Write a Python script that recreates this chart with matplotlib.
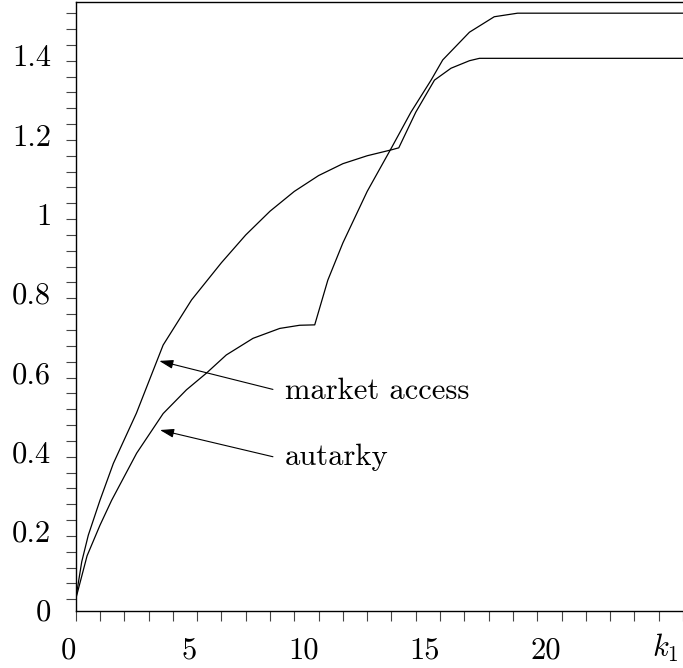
import matplotlib
matplotlib.use('Agg')
import matplotlib.pyplot as plt
import numpy as np

plt.rcParams['font.family'] = ['cmr10', 'DejaVu Serif']
plt.rcParams['mathtext.fontset'] = 'cm'

# market access curve
mkt_k = [0, 0.25, 0.52, 1.0, 1.55, 2.5, 3.6, 4.77, 6, 7, 8, 9, 10, 11, 12, 13, 13.3,
         14, 14.77, 15.45, 16.21, 16.62, 25]
mkt_v = [0, 0.095, 0.162, 0.25, 0.343, 0.47, 0.642, 0.756, 0.85, 0.92, 0.98, 1.03,
         1.07, 1.10, 1.12, 1.135, 1.14, 1.23, 1.311, 1.341, 1.36, 1.366, 1.366]

# autarky curve
aut_k = [0, 0.47, 1.0, 1.48, 2.51, 3.6, 4.56, 5.38, 6.2, 7.3, 8.4, 9.22, 9.84,
         10.38, 11, 12, 13, 13.8, 14.63, 15.11, 16.21, 17.23, 18.19, 25]
aut_v = [0, 0.11, 0.187, 0.25, 0.369, 0.469, 0.529, 0.571, 0.617, 0.659, 0.684,
         0.692, 0.693, 0.806, 0.9, 1.03, 1.14, 1.23, 1.311, 1.362, 1.432, 1.471,
         1.48, 1.48]

xlabels = ['0', '5', '10', '15', '20']
ylabels = ['0', '0.2', '0.4', '0.6', '0.8', '1', '1.2', '1.4']

fig = plt.figure(figsize=(6.83, 6.68), dpi=100)
ax = fig.add_axes([0.1108, 0.08533, 1.0 - 0.1108, 0.99746 - 0.08533])

ax.plot(mkt_k, mkt_v, color='black', lw=0.9)
ax.plot(aut_k, aut_v, color='black', lw=0.9)

ax.set_xlim(0, 25)
ax.set_ylim(-0.0295, 1.509)

ax.set_xticks(np.arange(0, 26, 1), minor=True)
ax.set_xticks([0, 5, 10, 15, 20])
ax.set_xticklabels(xlabels, fontsize=22)
ax.set_yticks(np.arange(0, 1.481, 0.04), minor=True)
ax.set_yticks([0, 0.2, 0.4, 0.6, 0.8, 1.0, 1.2, 1.4])
ax.set_yticklabels(ylabels, fontsize=22)

for lab in ax.get_xticklabels():
    lab.set_ha('right')
for lab in ax.get_yticklabels():
    lab.set_va('top')

ax.tick_params(which='both', direction='out', length=7, width=0.8, color='#444')
ax.tick_params(axis='x', which='major', pad=12)
ax.tick_params(axis='y', which='major', pad=10.5)

# axis name sits where the "25" label would be
ax.annotate('$k_1$', xy=(1, 0), xycoords='axes fraction', xytext=(-3, -15),
            textcoords='offset points', ha='right', va='top', fontsize=22)

ax.spines['right'].set_visible(False)
for s in ['left', 'bottom', 'top']:
    ax.spines[s].set_linewidth(1.0)

arrow = dict(arrowstyle='-|>,head_length=0.7,head_width=0.22', color='black',
             lw=0.8, shrinkA=0, shrinkB=0, mutation_scale=12)
ax.annotate('', xy=(3.44, 0.602), xytext=(8.12, 0.530), arrowprops=arrow)
ax.annotate('', xy=(3.47, 0.4275), xytext=(8.12, 0.360), arrowprops=arrow)
ax.text(8.6, 0.505, 'market access', fontsize=22, ha='left', va='baseline')
ax.text(8.6, 0.339, 'autarky', fontsize=22, ha='left', va='baseline')

fig.savefig('out.png', dpi=100)
